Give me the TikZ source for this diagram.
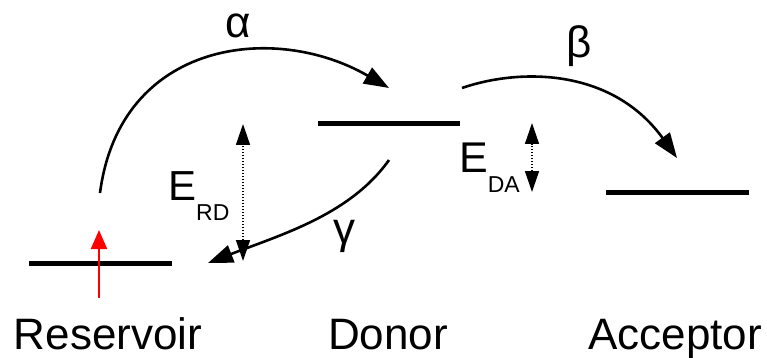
\documentclass[tikz,border=0pt]{standalone}
\usepackage{fontspec}
\setmainfont{Liberation Sans}
\usetikzlibrary{arrows.meta}
\begin{document}
\begin{tikzpicture}[x=1pt,y=-1pt,
  level/.style={line width=5pt},
  trans/.style={line width=2.6pt,-{Triangle[length=25pt,width=18pt]}},
  gap/.style={line width=1.5pt,dash pattern=on 1.5pt off 1.5pt,{Triangle[length=21pt,width=14pt]}-{Triangle[length=21pt,width=14pt]}},
  lbl/.style={inner sep=0pt,font=\fontsize{44}{50}\selectfont,anchor=base},
  greek/.style={inner sep=0pt,font=\fontsize{44}{48}\selectfont}]
\useasboundingbox (0,0) rectangle (767,358);
% levels
\coordinate (r1) at (29,263); \coordinate (r2) at (172,263);
\coordinate (d1) at (318,124); \coordinate (d2) at (460,124);
\coordinate (a1) at (606,192); \coordinate (a2) at (749,192);
\draw[level] (r1) -- (r2);
\draw[level] (d1) -- (d2);
\draw[level] (a1) -- (a2);
% red excitation arrow
\coordinate (rb) at (99,298); \coordinate (rt) at (99,230);
\draw[red,line width=2pt,-{Triangle[length=19pt,width=16pt]}] (rb) -- (rt);
% alpha
\coordinate (as) at (100,193); \coordinate (ae) at (389,88);
\draw[trans] (as) .. controls (120,40) and (275,22) .. (ae);
\node[greek] (alpha) at (238,26) {α};
% beta
\coordinate (bs) at (462,88); \coordinate (be) at (677,158);
\draw[trans] (bs) .. controls (520,68) and (612,68) .. (be);
\node[greek] (beta) at (579,46) {β};
% gamma
\coordinate (gs) at (389,160); \coordinate (ge) at (208,263);
\draw[trans] (gs) .. controls (350,215) and (280,235) .. (ge);
\node[greek] (gamma) at (344,236) {γ};
% energy gaps
\coordinate (erT) at (243,124); \coordinate (erB) at (243,261);
\draw[gap] (erB) -- (erT);
\node[inner sep=0pt,anchor=base west,font=\fontsize{42}{46}\selectfont] (erd) at (168,200) {E\raisebox{-20pt}{\fontsize{23}{25}\selectfont RD}};
\coordinate (edT) at (532,123); \coordinate (edB) at (532,192);
\draw[gap] (edB) -- (edT);
\node[inner sep=0pt,anchor=base west,font=\fontsize{43}{46}\selectfont] (eda) at (459,172) {E\raisebox{-20pt}{\fontsize{23}{25}\selectfont DA}};
% labels
\node[lbl] (res) at (108,349) {Reservoir};
\node[lbl] (don) at (388,349) {Donor};
\node[lbl] (acc) at (675,349) {Acceptor};
\end{tikzpicture}
\end{document}
